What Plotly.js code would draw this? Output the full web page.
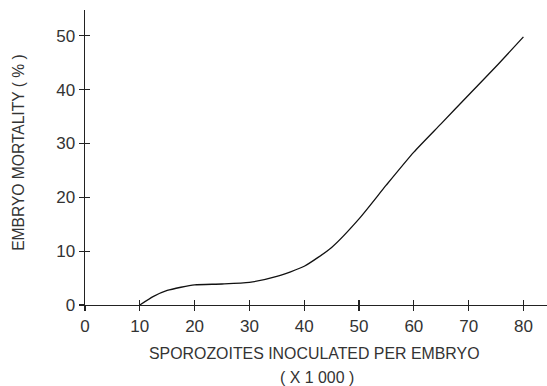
<!DOCTYPE html>
<html><head><meta charset="utf-8">
<script src="https://cdn.plot.ly/plotly-3.0.1.min.js"></script>
<style>html,body{margin:0;padding:0;background:#fff;}#chart{width:547px;height:386px;}</style>
</head><body><div id="chart"></div>
<script>
const sporozoites = [10, 12.5, 15, 17.5, 20, 25, 30, 35, 40, 45, 50, 55, 60, 65, 70, 75, 80];
const mortality   = [0, 1.6, 2.7, 3.3, 3.75, 3.9, 4.2, 5.3, 7.2, 10.7, 16.0, 22.3, 28.4, 33.7, 39.0, 44.3, 49.8];
const xTicks = [0, 10, 20, 30, 40, 50, 60, 70, 80];
const yTicks = [0, 10, 20, 30, 40, 50];
const xTitle = "SPOROZOITES INOCULATED PER EMBRYO";
const xTitle2 = "( X 1 000 )";
const yTitle = "EMBRYO MORTALITY ( % )";

const L = 85, R = 547, T = 10, B = 305;
const W = R - L, H = B - T;
const font = {family: "Liberation Sans, Arial, sans-serif", color: "#333", size: 15};
const traces = [
  {x: sporozoites, y: mortality, mode: "lines", line: {color: "#111", width: 1.3, shape: "spline", smoothing: 0.6}, hoverinfo: "skip"},
  {x: [0], y: [0], xaxis: "x2", yaxis: "y2", mode: "markers", marker: {opacity: 0}, hoverinfo: "skip"}
];
const axBase = {showgrid: false, zeroline: false, linecolor: "#222", linewidth: 1.4, tickcolor: "#222", tickwidth: 1.2};
const xr = [0, 84.3], yr = [0, 54.8];
const layout = {
  width: 547, height: 386,
  margin: {l: L, r: 547 - R, t: T, b: 386 - B},
  paper_bgcolor: "#fff", plot_bgcolor: "#fff",
  showlegend: false, font: font,
  xaxis: Object.assign({}, axBase, {range: xr, tickvals: xTicks, ticktext: xTicks.map(String), ticks: "outside", ticklen: 5, showline: true, tickfont: {size: 17}, anchor: "y"}),
  yaxis: Object.assign({}, axBase, {range: yr, tickvals: yTicks, ticktext: yTicks.map(String), ticks: "outside", ticklen: 5, showline: true, tickfont: {size: 17}, anchor: "x"}),
  xaxis2: Object.assign({}, axBase, {range: xr, overlaying: "x", tickvals: xTicks, showticklabels: false, ticks: "inside", ticklen: 5, showline: false, anchor: "y2"}),
  yaxis2: Object.assign({}, axBase, {range: yr, overlaying: "y", tickvals: yTicks, showticklabels: false, ticks: "inside", ticklen: 5, showline: false, anchor: "x2"}),
  annotations: [
    {text: xTitle, xref: "paper", yref: "paper", x: (314.7 - L) / W, y: -(353 - B) / H, showarrow: false, xanchor: "center", yanchor: "middle", font: {size: 15.9}},
    {text: xTitle2, xref: "paper", yref: "paper", x: (317 - L) / W, y: -(377 - B) / H, showarrow: false, xanchor: "center", yanchor: "middle", font: {size: 15.9}},
    {text: yTitle, xref: "paper", yref: "paper", x: (18.3 - L) / W, y: (B - 152.5) / H, showarrow: false, textangle: -90, xanchor: "center", yanchor: "middle", font: {size: 15.6}}
  ]
};
Plotly.newPlot("chart", traces, layout, {displayModeBar: false, staticPlot: true});
</script></body></html>
